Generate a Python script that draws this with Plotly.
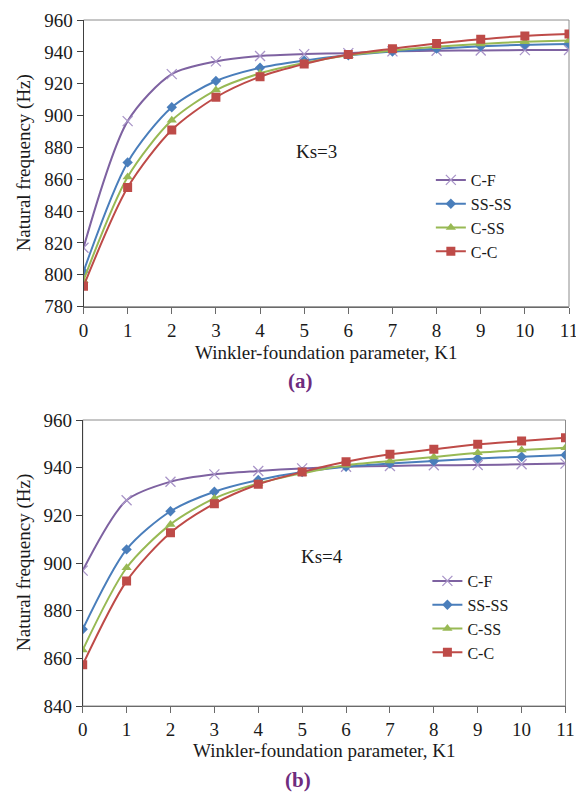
import plotly.graph_objects as go

k1 = list(range(12))
tick_labels = [str(v) for v in k1]

series_names = ["C-F", "SS-SS", "C-SS", "C-C"]

# (a) Ks = 3
a_cf   = [817, 896.5, 926, 934, 937.4, 938.6, 939.2, 940.3, 940.7, 940.9, 941.1, 941.2]
a_ssss = [802, 870.6, 905.2, 921.7, 930.0, 934.5, 937.8, 940.2, 942.0, 943.5, 944.5, 945.0]
a_css  = [796.5, 861.5, 897.0, 916.0, 926.5, 933.0, 937.9, 940.8, 943.2, 945.0, 946.3, 947.2]
a_cc   = [792.8, 854.8, 890.9, 911.5, 924.4, 932.4, 938.3, 942.0, 945.3, 947.9, 950.0, 951.2]

# (b) Ks = 4
b_cf   = [896.8, 926.3, 934.1, 937.2, 938.6, 939.7, 940.4, 940.7, 941.0, 941.1, 941.4, 941.7]
b_ssss = [872.2, 905.7, 921.7, 929.9, 934.8, 938.2, 940.4, 941.7, 942.8, 943.8, 944.6, 945.3]
b_css  = [863.5, 898.0, 916.2, 927.1, 933.4, 937.6, 941.0, 942.8, 944.5, 946.3, 947.4, 948.4]
b_cc   = [857.3, 892.4, 912.7, 924.9, 933.0, 938.2, 942.5, 945.6, 947.7, 949.8, 951.2, 952.6]

colors = ["#7E62A1", "#4A7EBB", "#98B954", "#BE4B48"]
marker_colors = ["#A995C8", "#4A7EBB", "#98B954", "#BE4B48"]
symbols = ["x-thin", "diamond", "triangle-up", "square"]
msizes = [10, 8, 9, 9]

FONT = "Liberation Serif"
fig = go.Figure()

def add_series(data, xa, ya, legend):
    for name, vals, c, mc, s, ms in zip(series_names, data, colors, marker_colors, symbols, msizes):
        mk = dict(symbol=s, size=ms, color=mc)
        if s == "x-thin":
            mk["line"] = dict(color=mc, width=1.3)
        fig.add_trace(go.Scatter(
            x=k1, y=vals, name=name, mode="lines+markers",
            line=dict(color=c, width=2, shape="spline", smoothing=0.8),
            marker=mk, xaxis=xa, yaxis=ya, legend=legend,
        ))

add_series([a_cf, a_ssss, a_css, a_cc], "x", "y", "legend")
add_series([b_cf, b_ssss, b_css, b_cc], "x2", "y2", "legend2")

axis_common = dict(
    showgrid=False, zeroline=False, showline=True, linewidth=1,
    ticks="outside", ticklen=6, automargin=False,
    ticklabeloverflow="allow",
    tickfont=dict(family=FONT, size=19, color="#1a1a1a"),
)
xstyle = dict(linecolor="#6A6A6A", tickcolor="#6A6A6A", **axis_common)
ystyle = dict(linecolor="#404040", tickcolor="#404040", **axis_common)

legend_font = dict(family=FONT, size=16, color="#1a1a1a")
fig.update_layout(
    width=576, height=796,
    margin=dict(l=0, r=0, t=0, b=0, autoexpand=False),
    paper_bgcolor="white", plot_bgcolor="white",
    showlegend=True,
    xaxis=dict(domain=[83.5/576, 569/576], range=[0, 11], tickvals=k1, ticktext=tick_labels,
               anchor="y", **xstyle),
    yaxis=dict(domain=[1-306.7/796, 1-20/796], range=[780, 960], dtick=20, anchor="x",
               **ystyle),
    xaxis2=dict(domain=[82.7/576, 565.5/576], range=[0, 11], tickvals=k1, ticktext=tick_labels,
                anchor="y2", **xstyle),
    yaxis2=dict(domain=[1-706/796, 1-420/796], range=[840, 960], dtick=20, anchor="x2",
                **ystyle),
    legend=dict(x=0.748, y=1-163/796, xanchor="left", yanchor="top",
                bgcolor="rgba(0,0,0,0)", font=legend_font, itemwidth=30, tracegroupgap=0),
    legend2=dict(x=0.742, y=1-564/796, xanchor="left", yanchor="top",
                 bgcolor="rgba(0,0,0,0)", font=legend_font, itemwidth=30, tracegroupgap=0),
)

# plot-area borders (gray)
for xr, yr in [("x domain", "y domain"), ("x2 domain", "y2 domain")]:
    fig.add_shape(type="rect", xref=xr, yref=yr, x0=0, x1=1, y0=0, y1=1,
                  line=dict(color="#8C8C8C", width=1), layer="below")

ann_font = dict(family=FONT, size=19, color="#1a1a1a")
purple = dict(family=FONT, size=21, color="#6E2C7E")
annotations = [
    dict(text="Ks=3", xref="x domain", yref="y domain", x=0.479, y=0.54, font=ann_font),
    dict(text="Ks=4", xref="x2 domain", yref="y2 domain", x=0.496, y=0.521, font=ann_font),
    dict(text="Winkler-foundation parameter, K1", xref="x domain", yref="y domain", x=0.5,
         y=-46/286.7, font=ann_font),
    dict(text="Winkler-foundation parameter, K1", xref="x2 domain", yref="y2 domain", x=0.5,
         y=-44/286, font=ann_font),
    dict(text="<b>(a)</b>", xref="paper", yref="y domain", x=300/576, y=-74/286.7, font=purple),
    dict(text="<b>(b)</b>", xref="paper", yref="y2 domain", x=298/576, y=-74/286, font=purple),
    dict(text="Natural frequency (Hz)", xref="paper", yref="y domain", x=24/576, y=0.5,
         textangle=-90, font=ann_font),
    dict(text="Natural frequency (Hz)", xref="paper", yref="y2 domain", x=24/576, y=0.5,
         textangle=-90, font=ann_font),
]
for a in annotations:
    a.update(showarrow=False, xanchor="center", yanchor="middle")
fig.update_layout(annotations=annotations)

fig.write_html(
    "out.html",
    config={"displayModeBar": False},
    post_script="document.body.style.margin='0';document.body.style.padding='0';"
                "document.documentElement.style.overflow='hidden';",
)
